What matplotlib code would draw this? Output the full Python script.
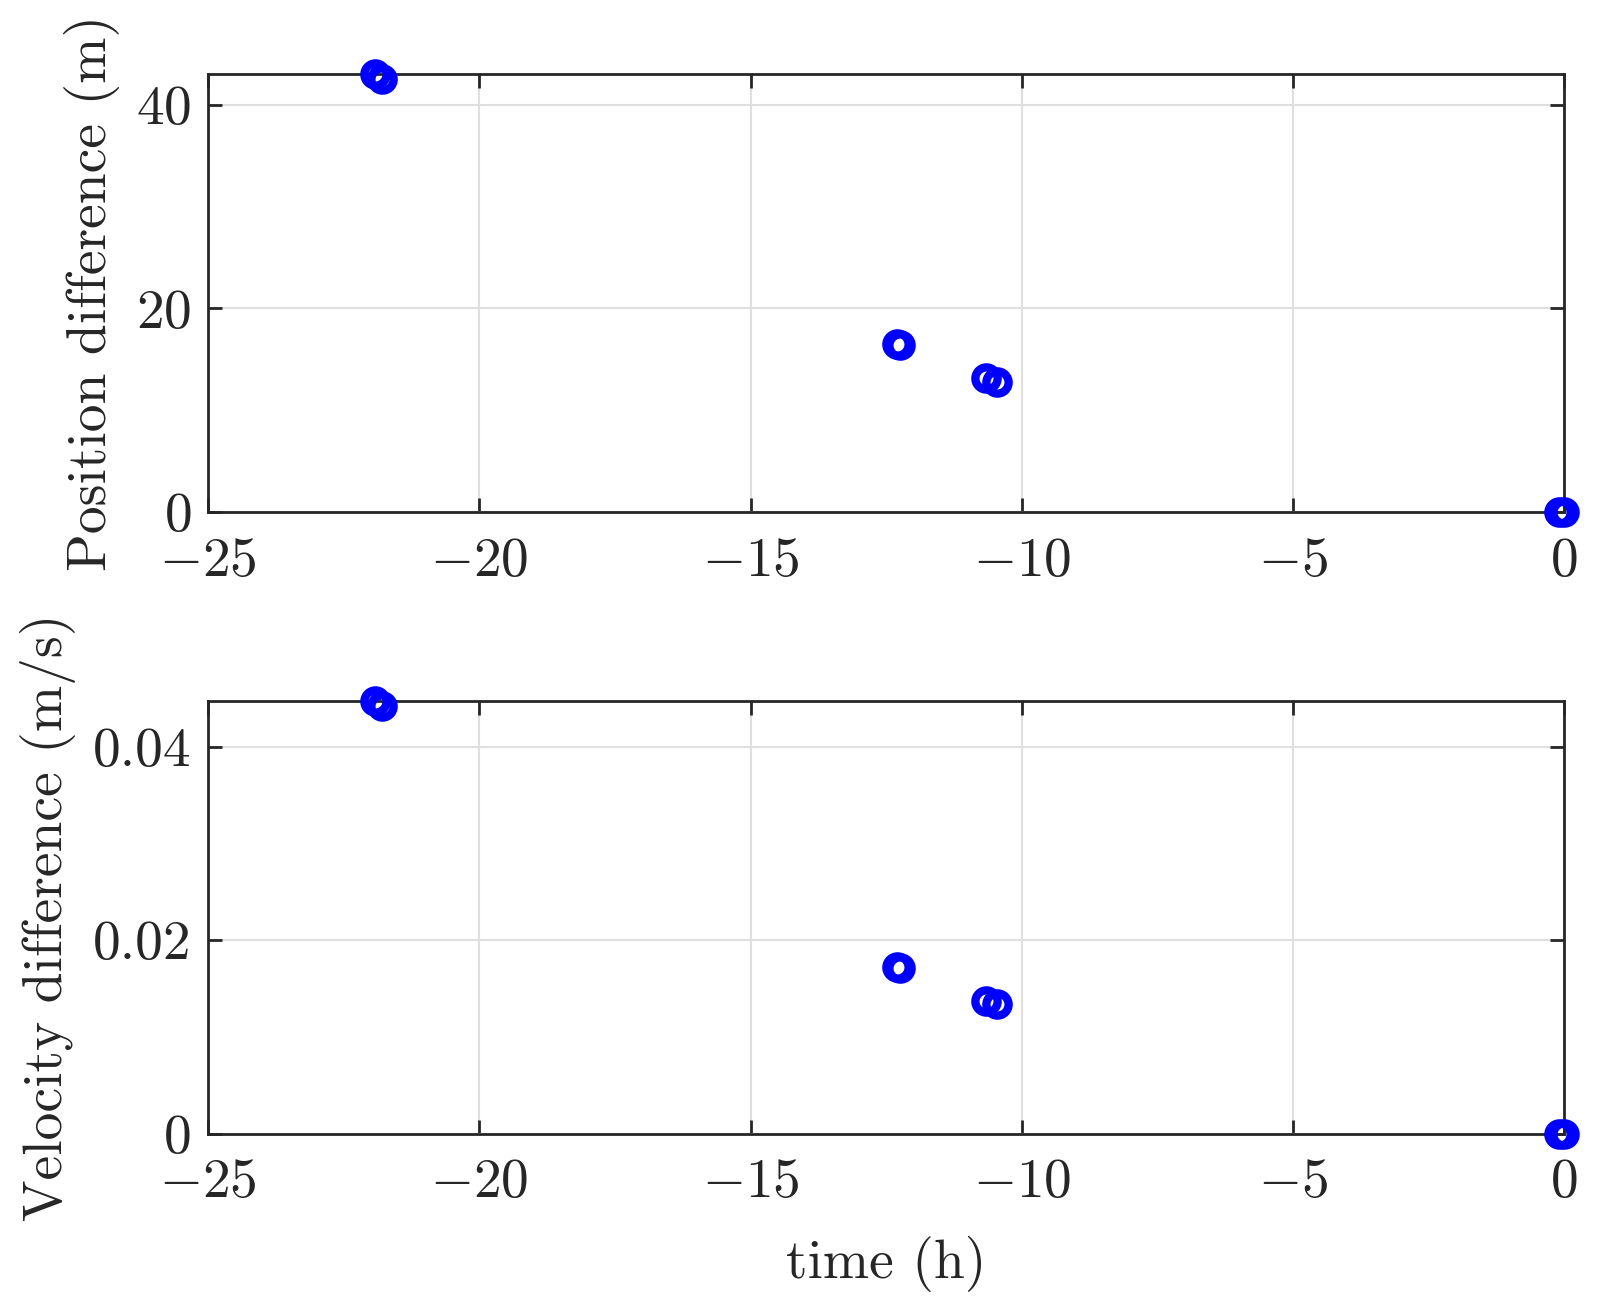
import numpy as np
import matplotlib.pyplot as plt

plt.rcParams['font.family'] = 'cmr10'
plt.rcParams['mathtext.fontset'] = 'cm'
plt.rcParams['axes.formatter.use_mathtext'] = True

# time of each comparison epoch (h)
time_h = [-21.93, -21.80, -12.30, -12.24, -10.66, -10.46, -0.10, 0.0]
pos_diff = [42.96, 42.50, 16.45, 16.40, 13.14, 12.75, 0.0, 0.0]
vel_diff = [0.04476, 0.04419, 0.01718, 0.01712, 0.01375, 0.01344, 0.0, 0.0]

xticks = [-25, -20, -15, -10, -5, 0]
pos_ticks = [0, 20, 40]
vel_ticks = [0, 0.02, 0.04]

fig = plt.figure(figsize=(16.01, 13.06), dpi=100)
ax1 = fig.add_axes([0.130, 0.608, 0.847, 0.335])
ax2 = fig.add_axes([0.130, 0.132, 0.847, 0.3316])

dark = '#262626'
for ax, vals, yt, lab in [(ax1, pos_diff, pos_ticks, 'Position difference (m)'),
                          (ax2, vel_diff, vel_ticks, 'Velocity difference (m/s)')]:
    ax.plot(time_h, vals, 'o', ls='none', mfc='none', mec='blue',
            ms=16, mew=6, clip_on=False, zorder=5)
    ax.set_xlim(-25, 0)
    ax.set_ylim(0, max(vals))
    ax.set_xticks(xticks)
    ax.set_yticks(yt)
    if ax is ax2:
        ax.set_yticklabels(['0', '0.02', '0.04'])
    ax.grid(True, color='#dfdfdf', lw=1.5)
    ax.set_axisbelow(True)
    ax.tick_params(direction='in', length=10, width=2, colors=dark,
                   labelsize=40, top=True, right=True, pad=12)
    ax.tick_params(axis='x', pad=18)
    for s in ax.spines.values():
        s.set_color(dark)
        s.set_linewidth(2)
    ax.set_ylabel(lab, fontsize=40, color=dark, labelpad=12)

ax2.set_xlabel('time (h)', fontsize=40, color=dark, labelpad=20)

fig.savefig('out.png', dpi=100)
